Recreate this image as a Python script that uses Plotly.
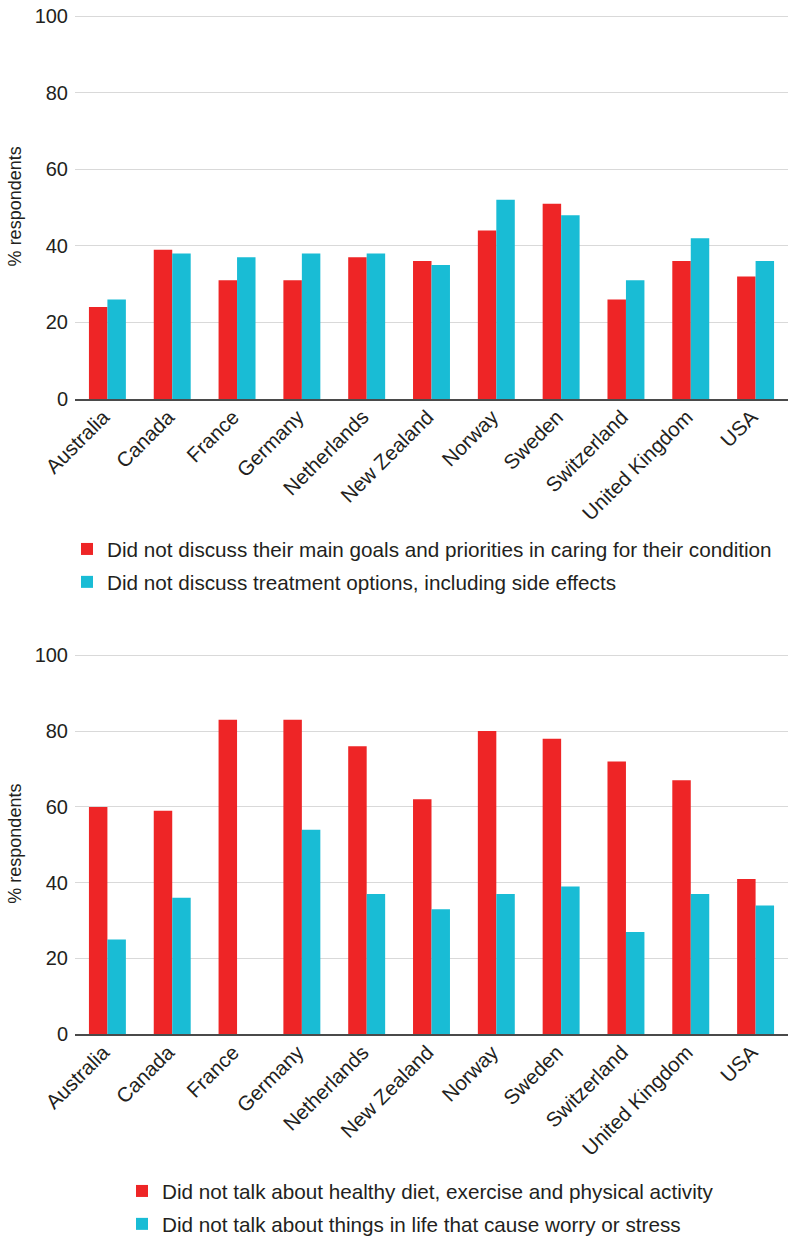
import plotly.graph_objects as go

countries = ["Australia", "Canada", "France", "Germany", "Netherlands", "New Zealand",
             "Norway", "Sweden", "Switzerland", "United Kingdom", "USA"]

goals = [24, 39, 31, 31, 37, 36, 44, 51, 26, 36, 32]
treatment = [26, 38, 37, 38, 38, 35, 52, 48, 31, 42, 36]

diet = [60, 59, 83, 83, 76, 62, 80, 78, 72, 67, 41]
worry = [25, 36, None, 54, 37, 33, 37, 39, 27, 37, 34]

label_goals = "Did not discuss their main goals and priorities in caring for their condition"
label_treat = "Did not discuss treatment options, including side effects"
label_diet = "Did not talk about healthy diet, exercise and physical activity"
label_worry = "Did not talk about things in life that cause worry or stress"

RED = "#ee2526"
TEAL = "#19bcd5"
TXT = "#231f20"
FONT = "Liberation Sans, Arial, sans-serif"

fig = go.Figure()
fig.add_trace(go.Bar(x=countries, y=goals, name=label_goals, marker_color=RED,
                     xaxis="x", yaxis="y", legend="legend", legendgroup="a"))
fig.add_trace(go.Bar(x=countries, y=treatment, name=label_treat, marker_color=TEAL,
                     xaxis="x", yaxis="y", legend="legend", legendgroup="b"))
fig.add_trace(go.Bar(x=countries, y=diet, name=label_diet, marker_color=RED,
                     xaxis="x2", yaxis="y2", legend="legend2", legendgroup="c"))
fig.add_trace(go.Bar(x=countries, y=worry, name=label_worry, marker_color=TEAL,
                     xaxis="x2", yaxis="y2", legend="legend2", legendgroup="d"))
fig.update_traces(marker_line_width=0)

W, H = 788, 1238

def py(pix):
    return 1 - pix / H

def px(pix):
    return pix / W

xcommon = dict(domain=[px(75), 1], tickangle=-45, showline=True, linecolor="#4a4a4a",
               linewidth=2, ticks="", showgrid=False, automargin=False,
               ticklabelstandoff=-4, ticklabelshift=-4, ticklabeloverflow="allow",
               tickfont=dict(size=20.5, color=TXT, family=FONT))
ycommon = dict(range=[0, 100.6], tickvals=[0, 20, 40, 60, 80, 100],
               showgrid=True, gridcolor="#d9d9d9", gridwidth=1.3,
               zeroline=False, showline=False, ticks="", automargin=False,
               ticklabelstandoff=6, ticklabeloverflow="allow",
               tickfont=dict(size=20, color=TXT, family=FONT),
               title=dict(text="% respondents", font=dict(size=18, color=TXT, family=FONT),
                          standoff=8))

legfont = dict(size=20.7, color=TXT, family=FONT)

fig.update_layout(
    width=W, height=H,
    margin=dict(l=0, r=0, t=0, b=0, autoexpand=False),
    paper_bgcolor="white", plot_bgcolor="white",
    barmode="group", bargap=0.43, bargroupgap=0,
    font=dict(family=FONT, color=TXT, size=18),
    xaxis=dict(**xcommon, anchor="y"),
    yaxis=dict(**ycommon, domain=[py(399), py(13.7)], anchor="x"),
    xaxis2=dict(**xcommon, anchor="y2"),
    yaxis2=dict(**ycommon, domain=[py(1034.3), py(653.0)], anchor="x2"),
    legend=dict(x=px(67), y=py(529), xanchor="left", yanchor="top",
                font=legfont, traceorder="grouped",
                tracegroupgap=3, itemwidth=30, bgcolor="rgba(0,0,0,0)"),
    legend2=dict(x=px(122), y=py(1171), xanchor="left", yanchor="top",
                 font=legfont, traceorder="grouped",
                 tracegroupgap=3, itemwidth=30, bgcolor="rgba(0,0,0,0)"),
)

# remove the browser's default body margin so the 788x1238 figure fills the window
fig.write_html("out.html", config={"displayModeBar": False},
               post_script="document.body.style.margin='0px';")
